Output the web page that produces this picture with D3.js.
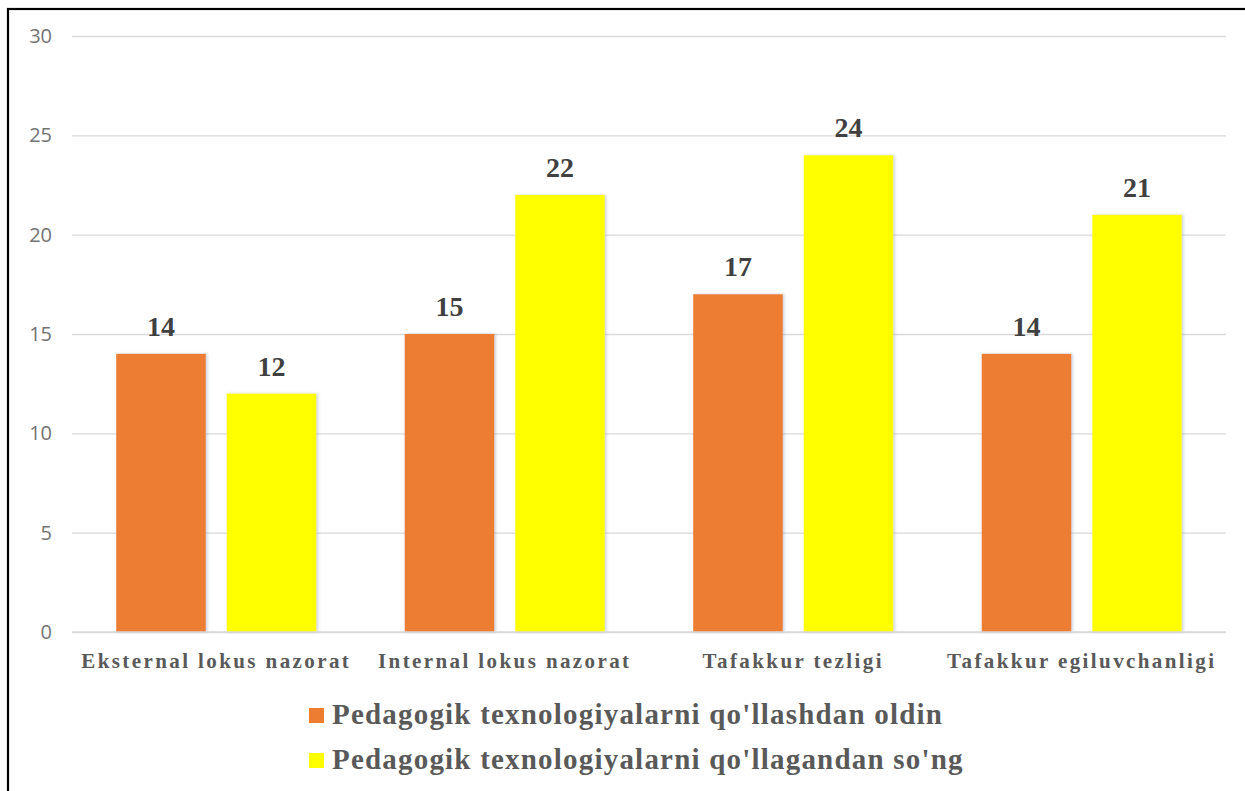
<!DOCTYPE html>
<html>
<head>
<meta charset="utf-8">
<script src="https://cdn.jsdelivr.net/npm/d3@7"></script>
<style>
  html, body { margin: 0; padding: 0; background: #fff; }
  svg { display: block; }
</style>
</head>
<body>
<svg id="chart" width="1245" height="791"></svg>
<script>
// Categories, series and axis ticks
const categories = ["Eksternal lokus nazorat", "Internal lokus nazorat", "Tafakkur tezligi", "Tafakkur egiluvchanligi"];
const seriesNames = ["Pedagogik texnologiyalarni qo'llashdan oldin", "Pedagogik texnologiyalarni qo'llagandan so'ng"];
const beforeValues = [14, 15, 17, 14];
const afterValues = [12, 22, 24, 21];
const yTicks = [0, 5, 10, 15, 20, 25, 30];
const colors = ["#ED7D31", "#FFFF00"];

const svg = d3.select("#chart");

// Frame: top and left edges of the chart border
svg.append("rect")
  .attr("x", 8).attr("y", 9)
  .attr("width", 1260).attr("height", 800)
  .attr("fill", "none").attr("stroke", "#000").attr("stroke-width", 2.2);

const plot = { left: 72, right: 1226, top: 36, bottom: 632 };

const x = d3.scaleBand().domain(categories).range([plot.left, plot.right]).paddingInner(0).paddingOuter(0);
const series = seriesNames.map((name, i) => ({ name, values: i === 0 ? beforeValues : afterValues, color: colors[i] }));
const x1 = d3.scaleBand().domain(d3.range(series.length)).range([0, x.bandwidth()]).paddingInner(0.19).paddingOuter(0.4);
const y = d3.scaleLinear().domain([0, 30]).range([plot.bottom, plot.top]);

// Gridlines and y tick labels
const yAxis = d3.axisLeft(y).tickValues(yTicks).tickSize(-(plot.right - plot.left)).tickPadding(20);
const gy = svg.append("g").attr("transform", `translate(${plot.left},0)`).call(yAxis);
gy.select(".domain").remove();
gy.selectAll(".tick line").attr("stroke", "#d9d9d9").attr("stroke-width", 1.3);
gy.selectAll(".tick text")
  .attr("fill", "#737373")
  .style("font-family", "'Open Sans', 'Liberation Sans', sans-serif")
  .style("font-size", "20px");

// Shadow filter for bars
const defs = svg.append("defs");
const f = defs.append("filter").attr("id", "shadow").attr("x", "-10%").attr("y", "-10%").attr("width", "130%").attr("height", "120%");
f.append("feDropShadow").attr("dx", 1.5).attr("dy", 0).attr("stdDeviation", 1.5).attr("flood-color", "#8a94a6").attr("flood-opacity", 0.45);

// Bars
const groups = svg.append("g").selectAll("g")
  .data(categories)
  .join("g")
  .attr("transform", d => `translate(${x(d)},0)`);

series.forEach((s, si) => {
  groups.append("rect")
    .attr("x", x1(si))
    .attr("y", (d, i) => y(s.values[i]))
    .attr("width", x1.bandwidth())
    .attr("height", (d, i) => y(0) - y(s.values[i]))
    .attr("fill", s.color)
    .attr("filter", "url(#shadow)");

  groups.append("text")
    .attr("x", x1(si) + x1.bandwidth() / 2)
    .attr("y", (d, i) => y(s.values[i]) - 18)
    .attr("text-anchor", "middle")
    .attr("fill", "#404040")
    .style("font-family", "'Liberation Serif', 'Times New Roman', serif")
    .style("font-weight", "bold")
    .style("font-size", "28px")
    .text((d, i) => s.values[i]);
});

// Baseline
svg.append("line")
  .attr("x1", plot.left).attr("x2", plot.right)
  .attr("y1", y(0)).attr("y2", y(0))
  .attr("stroke", "#d9d9d9").attr("stroke-width", 1.3);

// Category labels
const xAxis = d3.axisBottom(x).tickSize(0).tickPadding(21);
const gx = svg.append("g").attr("transform", `translate(0,${plot.bottom})`).call(xAxis);
gx.select(".domain").remove();
gx.selectAll(".tick text")
  .attr("fill", "#595959")
  .style("font-family", "'Liberation Serif', 'Times New Roman', serif")
  .style("font-weight", "bold")
  .style("font-size", "21px")
  .style("letter-spacing", "2.4px");

// Legend
const legend = svg.append("g").selectAll("g")
  .data(series)
  .join("g")
  .attr("transform", (d, i) => `translate(309,${724 + i * 45})`);

legend.append("rect")
  .attr("x", 0).attr("y", -16)
  .attr("width", 15).attr("height", 15)
  .attr("fill", d => d.color);

legend.append("text")
  .attr("x", 23).attr("y", 0)
  .attr("fill", "#595959")
  .style("font-family", "'Liberation Serif', 'Times New Roman', serif")
  .style("font-weight", "bold")
  .style("font-size", "29px")
  .style("letter-spacing", "1.2px")
  .text(d => d.name);
</script>
</body>
</html>
